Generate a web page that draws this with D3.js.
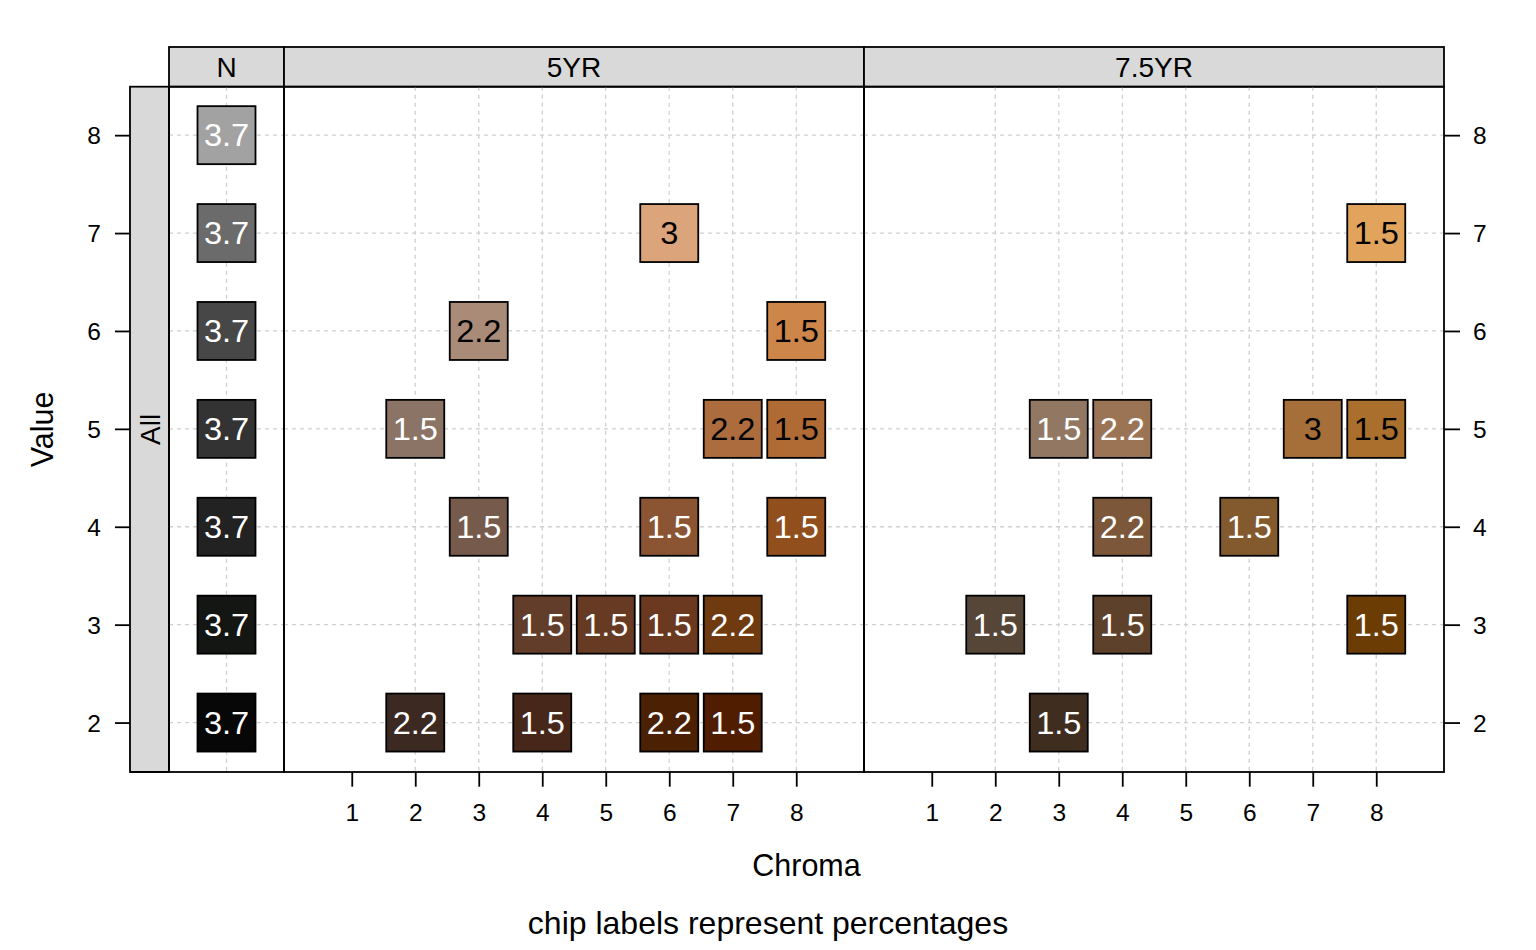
<!DOCTYPE html>
<html>
<head>
<meta charset="utf-8">
<script src="https://cdn.jsdelivr.net/npm/d3@7"></script>
<style>
  html, body { margin: 0; padding: 0; background: #ffffff; }
  svg { display: block; font-family: "Liberation Sans", Arial, Helvetica, sans-serif; }
</style>
</head>
<body>
<svg id="chart" width="1536" height="950"></svg>
<script>
// ---------------- data ----------------
const hues = ["N", "5YR", "7.5YR"];
const valueTicks = [2, 3, 4, 5, 6, 7, 8];
const chromaTicks = [1, 2, 3, 4, 5, 6, 7, 8];
const chromaGrid = [2, 3, 4, 5, 6, 7, 8];

const chipHue    = ["N","N","N","N","N","N","N",
                    "5YR","5YR","5YR","5YR","5YR","5YR","5YR","5YR","5YR","5YR","5YR","5YR","5YR","5YR","5YR","5YR","5YR",
                    "7.5YR","7.5YR","7.5YR","7.5YR","7.5YR","7.5YR","7.5YR","7.5YR","7.5YR","7.5YR","7.5YR"];
const chipValue  = [8,7,6,5,4,3,2,
                    7,6,6,5,5,5,4,4,4,3,3,3,3,2,2,2,2,
                    7,5,5,5,5,4,4,3,3,3,2];
const chipChroma = [0,0,0,0,0,0,0,
                    6,3,8,2,7,8,3,6,8,4,5,6,7,2,4,6,7,
                    8,3,4,7,8,4,6,2,4,8,3];
const chipPct    = ["3.7","3.7","3.7","3.7","3.7","3.7","3.7",
                    "3","2.2","1.5","1.5","2.2","1.5","1.5","1.5","1.5","1.5","1.5","1.5","2.2","2.2","1.5","2.2","1.5",
                    "1.5","1.5","2.2","3","1.5","2.2","1.5","1.5","1.5","1.5","1.5"];
const chipColor  = ["#a2a2a2","#6b6b6b","#474747","#333333","#222222","#141614","#070707",
                    "#dba47a","#a98b78","#cd8549","#8b7465","#ac6c3e","#b06b34","#765a4b","#8b5533","#904f1d",
                    "#623e2a","#663a23","#6a391f","#6f3a10","#3c2a22","#462719","#4c2002","#501d00",
                    "#e2a45c","#927863","#9b7455","#a66e39","#aa6f2c","#7c5739","#825a2d","#564638","#5e412a","#6b3d04","#3f2e1f"];

const stripLabel = "All";
const xLabel = "Chroma";
const yLabel = "Value";
const subLabel = "chip labels represent percentages";

// ---------------- layout ----------------
const svg = d3.select("#chart");
const panelTop = 86.7, panelBottom = 772, stripTop = 47;
const leftStripX0 = 130, leftStripX1 = 169;
const panelWidths = { "N": 115, "5YR": 580, "7.5YR": 580 };
const chipSize = 58;
const lineW = 1.8;
const tickFont = 24.5;

let acc = leftStripX1;
const panels = hues.map(h => {
  const p = { hue: h, x0: acc, x1: acc + panelWidths[h] };
  acc = p.x1;
  return p;
});
const plotX0 = panels[0].x0, plotX1 = panels[panels.length - 1].x1;

const y = d3.scaleLinear().domain([1.495, 8.495]).range([panelBottom, panelTop]);

panels.forEach(p => {
  if (p.hue === "N") {
    p.x = d3.scalePoint().domain([0]).range([p.x0, p.x1]).padding(0.5);
  } else {
    p.x = d3.scaleLinear().domain([-0.067, 9.067]).range([p.x0, p.x1]);
  }
});

const chips = chipHue.map((h, i) => ({
  hue: h, value: chipValue[i], chroma: chipChroma[i], pct: chipPct[i], color: chipColor[i]
}));

function labelColor(d) {
  if (d.hue === "N") return "#ffffff";
  return (d.value >= 6 || (d.value === 5 && d.chroma >= 7)) ? "#000000" : "#ffffff";
}

// ---------------- strips ----------------
const stripFill = "#d9d9d9";
svg.append("rect")
  .attr("x", leftStripX0).attr("y", panelTop)
  .attr("width", leftStripX1 - leftStripX0).attr("height", panelBottom - panelTop)
  .attr("fill", stripFill).attr("stroke", "#000").attr("stroke-width", lineW);
svg.append("text")
  .attr("transform", `translate(160,${(panelTop + panelBottom) / 2}) rotate(-90)`)
  .attr("text-anchor", "middle").attr("font-size", 28).attr("fill", "#000")
  .text(stripLabel);

panels.forEach(p => {
  const g = svg.append("g");
  g.append("rect")
    .attr("x", p.x0).attr("y", stripTop)
    .attr("width", p.x1 - p.x0).attr("height", panelTop - stripTop)
    .attr("fill", stripFill).attr("stroke", "#000").attr("stroke-width", lineW);
  g.append("text")
    .attr("x", (p.x0 + p.x1) / 2).attr("y", 77)
    .attr("text-anchor", "middle").attr("font-size", 28).attr("fill", "#000")
    .text(p.hue);
});

// ---------------- panels ----------------
panels.forEach(p => {
  const g = svg.append("g");
  const gridX = p.hue === "N" ? [0] : chromaGrid;
  g.selectAll("line.gh").data(valueTicks).join("line")
    .attr("x1", p.x0).attr("x2", p.x1)
    .attr("y1", d => y(d)).attr("y2", d => y(d))
    .attr("stroke", "#d0d0d0").attr("stroke-width", 1.3).attr("stroke-dasharray", "4,4");
  g.selectAll("line.gv").data(gridX).join("line")
    .attr("x1", d => p.x(d)).attr("x2", d => p.x(d))
    .attr("y1", panelTop).attr("y2", panelBottom)
    .attr("stroke", "#d0d0d0").attr("stroke-width", 1.3).attr("stroke-dasharray", "4,4");

  const pc = chips.filter(c => c.hue === p.hue);
  const cg = g.selectAll("g.chip").data(pc).join("g").attr("class", "chip");
  cg.append("rect")
    .attr("x", d => p.x(d.chroma) - chipSize / 2)
    .attr("y", d => y(d.value) - chipSize / 2)
    .attr("width", chipSize).attr("height", chipSize)
    .attr("fill", d => d.color).attr("stroke", "#000").attr("stroke-width", 1.8);
  cg.append("text")
    .attr("transform", d => `translate(${p.x(d.chroma)},${y(d.value) + 11}) scale(1.05,1)`)
    .attr("text-anchor", "middle").attr("font-size", 31)
    .attr("fill", labelColor)
    .text(d => d.pct);

  g.append("rect")
    .attr("x", p.x0).attr("y", panelTop)
    .attr("width", p.x1 - p.x0).attr("height", panelBottom - panelTop)
    .attr("fill", "none").attr("stroke", "#000").attr("stroke-width", lineW);

  if (p.hue !== "N") {
    const ax = svg.append("g").attr("transform", `translate(0,${panelBottom})`)
      .call(d3.axisBottom(p.x).tickValues(chromaTicks).tickFormat(d3.format("d"))
        .tickSize(14.7).tickPadding(16.5));
    ax.select(".domain").remove();
    ax.selectAll(".tick line").attr("stroke", "#000").attr("stroke-width", lineW);
    ax.selectAll(".tick text").attr("font-size", tickFont).attr("fill", "#000")
      .attr("font-family", "Liberation Sans, Arial, sans-serif");
  }
});

svg.append("line")
  .attr("x1", leftStripX0).attr("x2", plotX0)
  .attr("y1", panelBottom).attr("y2", panelBottom)
  .attr("stroke", "#000").attr("stroke-width", lineW);

const la = svg.append("g").attr("transform", `translate(${leftStripX0},0)`)
  .call(d3.axisLeft(y).tickValues(valueTicks).tickFormat(d3.format("d")).tickSize(15).tickPadding(14));
la.select(".domain").remove();
la.selectAll(".tick line").attr("stroke", "#000").attr("stroke-width", lineW);
la.selectAll(".tick text").attr("font-size", tickFont).attr("fill", "#000").attr("dy", "0.36em")
  .attr("font-family", "Liberation Sans, Arial, sans-serif");

const ra = svg.append("g").attr("transform", `translate(${plotX1},0)`)
  .call(d3.axisRight(y).tickValues(valueTicks).tickFormat(d3.format("d")).tickSize(16).tickPadding(13));
ra.select(".domain").remove();
ra.selectAll(".tick line").attr("stroke", "#000").attr("stroke-width", lineW);
ra.selectAll(".tick text").attr("font-size", tickFont).attr("fill", "#000").attr("dy", "0.36em")
  .attr("font-family", "Liberation Sans, Arial, sans-serif");

svg.append("text")
  .attr("x", (plotX0 + plotX1) / 2).attr("y", 876.3)
  .attr("text-anchor", "middle").attr("font-size", 30.5).attr("fill", "#000")
  .text(xLabel);
svg.append("text")
  .attr("transform", `translate(53.3,${(panelTop + panelBottom) / 2}) rotate(-90)`)
  .attr("text-anchor", "middle").attr("font-size", 30.5).attr("fill", "#000")
  .text(yLabel);
svg.append("text")
  .attr("x", 768).attr("y", 934)
  .attr("text-anchor", "middle").attr("font-size", 32).attr("fill", "#000")
  .text(subLabel);
</script>
</body>
</html>
